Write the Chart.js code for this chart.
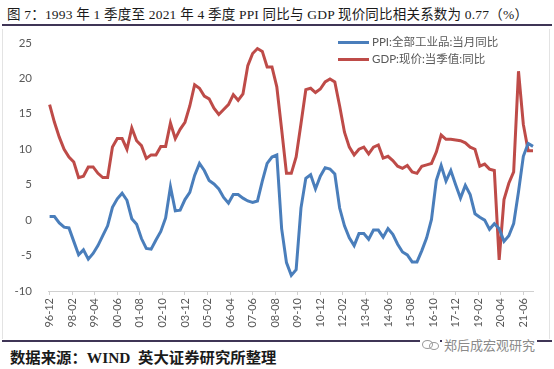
<!DOCTYPE html>
<html>
<head>
<meta charset="utf-8">
<script src="https://cdn.jsdelivr.net/npm/chart.js@4/dist/chart.umd.min.js"></script>
<style>
  html, body { margin: 0; padding: 0; background: #fff; }
  #wrap { position: relative; width: 554px; height: 369px; overflow: hidden; background: #fff; }
  #title { position: absolute; left: 7px; top: 3px; font-family: "Liberation Serif", "Noto Sans CJK SC", serif; font-size: 13.5px; letter-spacing: 0.2px; color: #1a1a1a; white-space: nowrap; }
  .rule { position: absolute; left: 2px; width: 550px; height: 2px; background: #3f3556; }
  #frame { position: absolute; left: 2px; top: 29px; width: 546px; height: 310px; border-left: 1px solid #e3e3e3; border-right: 1px solid #e3e3e3; }
  #chartBox { position: absolute; left: 0; top: 28px; width: 554px; height: 310px; }
  #legend { position: absolute; left: 338px; top: 33px; font-family: "Lato", "Noto Sans CJK SC", sans-serif; font-size: 11.5px; color: #595959; }
  #legend div { height: 17px; line-height: 17px; white-space: nowrap; }
  #legend span.sw { display: inline-block; width: 31px; height: 3px; vertical-align: middle; margin-right: 3px; position: relative; top: -1px; }
  #source { position: absolute; left: 10px; top: 346px; font-family: "Liberation Serif", "Noto Sans CJK SC", serif; font-weight: bold; font-size: 14.5px; color: #1a1a1a; white-space: nowrap; transform: scaleX(1.06); transform-origin: left center; }
  #wm { position: absolute; left: 442px; top: 335px; font-family: "Noto Sans CJK SC", sans-serif; font-size: 13px; color: #8a8a8a; white-space: nowrap; background: #fff; padding: 0 2px; }
  #wmicon { position: absolute; left: 420px; top: 339px; width: 20px; height: 10px; background: #fff; }
  #wmicon i { position: absolute; border: 1px solid #9a9a9a; border-radius: 50%; }
</style>
</head>
<body>
<div id="wrap">
  <div id="title">图 7：1993 年 1 季度至 2021 年 4 季度 PPI 同比与 GDP 现价同比相关系数为 0.77（%）</div>
  <div class="rule" style="top:24px"></div>
  <div id="frame"></div>
  <div id="chartBox"><canvas id="c" width="554" height="310"></canvas></div>
  <div id="legend"></div>
  <div class="rule" style="top:340px"></div>
  <div id="wmicon"><i style="left:2px;top:1px;width:9px;height:7px"></i><i style="left:9px;top:3px;width:8px;height:6px"></i></div>
  <div id="wm">郑后成宏观研究</div>
  <div id="source">数据来源：WIND&nbsp; 英大证券研究所整理</div>
</div>
<script>
// ---- data ----
const quarters = [
  '96-12',
  '97-03','97-06','97-09','97-12',
  '98-03','98-06','98-09','98-12',
  '99-03','99-06','99-09','99-12',
  '00-03','00-06','00-09','00-12',
  '01-03','01-06','01-09','01-12',
  '02-03','02-06','02-09','02-12',
  '03-03','03-06','03-09','03-12',
  '04-03','04-06','04-09','04-12',
  '05-03','05-06','05-09','05-12',
  '06-03','06-06','06-09','06-12',
  '07-03','07-06','07-09','07-12',
  '08-03','08-06','08-09','08-12',
  '09-03','09-06','09-09','09-12',
  '10-03','10-06','10-09','10-12',
  '11-03','11-06','11-09','11-12',
  '12-03','12-06','12-09','12-12',
  '13-03','13-06','13-09','13-12',
  '14-03','14-06','14-09','14-12',
  '15-03','15-06','15-09','15-12',
  '16-03','16-06','16-09','16-12',
  '17-03','17-06','17-09','17-12',
  '18-03','18-06','18-09','18-12',
  '19-03','19-06','19-09','19-12',
  '20-03','20-06','20-09','20-12',
  '21-03','21-06','21-09','21-12'
];
const ppiValues = [
  0.5,
  0.5, -0.4, -1.0, -1.1,
  -3.0, -4.9, -4.2, -5.5,
  -4.7, -3.6, -2.2, -0.8,
  1.8, 3.0, 3.8, 2.8,
  0.2, -0.6, -2.6, -4.0,
  -4.1, -2.8, -1.6, 0.3,
  4.7, 1.3, 1.4, 2.9,
  3.9, 6.3, 8.0, 7.0,
  5.6, 5.1, 4.4, 3.2,
  2.4, 3.6, 3.6, 3.1,
  2.7, 2.5, 2.7, 5.5,
  8.0, 8.9, 9.2, -1.2,
  -6.0, -7.8, -7.0, 1.7,
  5.9, 6.4, 4.4, 6.2,
  7.4, 7.2, 6.5, 1.7,
  -0.8, -2.5, -3.6, -1.9,
  -1.9, -2.7, -1.4, -1.4,
  -2.4, -1.2, -2.0, -3.4,
  -4.5, -4.9, -5.9, -5.9,
  -4.3, -2.5, 0.1, 5.6,
  7.7, 5.5, 7.0, 5.0,
  3.1, 4.9, 3.6, 0.9,
  0.4, 0.0, -1.3, -0.5,
  -1.2, -3.0, -2.2, -0.5,
  4.0, 9.0, 10.8, 10.4
];
const gdpValues = [
  16.3,
  13.8, 11.7, 10.0, 8.9,
  8.2, 6.0, 6.2, 7.5,
  7.5, 6.6, 6.0, 6.0,
  10.3, 11.5, 11.5, 10.0,
  13.0, 11.2, 10.5, 8.7,
  9.2, 9.2, 10.4, 10.4,
  13.7, 11.5, 12.8, 13.8,
  16.1, 19.1, 18.6, 17.5,
  17.1, 15.8, 14.9, 15.6,
  16.3, 17.7, 16.9, 17.8,
  21.8, 23.5, 24.2, 23.8,
  21.6, 21.6, 18.8, 12.8,
  6.6, 6.6, 8.9, 13.6,
  18.4, 18.6, 18.0, 18.5,
  19.5, 19.9, 19.5, 16.1,
  12.4, 10.3, 9.2, 10.0,
  10.3, 9.35, 10.3, 10.6,
  8.75, 9.0, 8.4, 7.6,
  7.3, 7.7, 6.8, 6.6,
  7.6, 7.8, 8.0, 9.6,
  12.0, 11.4, 11.4, 11.3,
  11.2, 10.9, 10.3, 10.0,
  7.6, 7.9, 7.2, 7.0,
  -5.6, 2.9, 5.2, 6.8,
  21.0, 13.5, 9.8, 9.8
];
const xTickLabels = ['96-12','98-02','99-04','00-06','01-08','02-10','03-12','05-02','06-04','07-06','08-08','09-10','10-12','12-02','13-04','14-06','15-08','16-10','17-12','19-02','20-04','21-06'];
const yTicks = [-10, -5, 0, 5, 10, 15, 20, 25];
const seriesNames = ['PPI:全部工业品:当月同比', 'GDP:现价:当季值:同比'];
const seriesColors = ['#4a7ebb', '#be4b48'];

// month offset from 1996-12 for a 'YY-MM' label
function monthIndex(lbl) {
  const yy = parseInt(lbl.slice(0, 2), 10);
  const mm = parseInt(lbl.slice(3, 5), 10);
  const year = yy >= 90 ? 1900 + yy : 2000 + yy;
  return (year - 1996) * 12 + (mm - 12);
}
function labelFor(m) {
  const hit = xTickLabels.find(l => monthIndex(l) === m);
  return hit || '';
}

const toPoints = vals => quarters.map((q, i) => ({ x: monthIndex(q), y: vals[i] }));

const tickColor = '#595959';
const chart = new Chart(document.getElementById('c'), {
  type: 'line',
  data: {
    datasets: [
      { label: seriesNames[0], data: toPoints(ppiValues), borderColor: seriesColors[0], backgroundColor: seriesColors[0], borderWidth: 3, pointRadius: 0, tension: 0, clip: 6 },
      { label: seriesNames[1], data: toPoints(gdpValues), borderColor: seriesColors[1], backgroundColor: seriesColors[1], borderWidth: 3, pointRadius: 0, tension: 0, clip: 6 }
    ]
  },
  options: {
    responsive: false,
    animation: false,
    layout: { padding: { top: 11, right: 21, left: 0, bottom: 0 } },
    plugins: { legend: { display: false }, tooltip: { enabled: false } },
    scales: {
      x: {
        type: 'linear',
        min: -1,
        max: 300,
        afterBuildTicks: s => { s.ticks = xTickLabels.map(l => ({ value: monthIndex(l) })); },
        afterFit: s => { s.height = 47; },
        ticks: {
          autoSkip: false,
          minRotation: 90,
          maxRotation: 90,
          color: tickColor,
          padding: 3,
          font: { family: 'Lato, "Open Sans", sans-serif', size: 11 },
          callback: v => labelFor(v)
        },
        grid: { display: true, drawOnChartArea: false, drawTicks: true, tickLength: 4, color: '#d0d0d0' },
        border: { display: true, color: '#d0d0d0', width: 1 }
      },
      y: {
        min: -10,
        max: 25,
        afterBuildTicks: s => { s.ticks = yTicks.map(v => ({ value: v })); },
        afterFit: s => { s.width = 48; },
        ticks: {
          color: tickColor,
          padding: 8,
          font: { family: 'Lato, "Open Sans", sans-serif', size: 11.5 }
        },
        grid: { display: false },
        border: { display: false }
      }
    }
  }
});

// HTML legend built from the chart's datasets
const leg = document.getElementById('legend');
chart.data.datasets.forEach(ds => {
  const row = document.createElement('div');
  const sw = document.createElement('span');
  sw.className = 'sw';
  sw.style.background = ds.borderColor;
  row.appendChild(sw);
  row.appendChild(document.createTextNode(ds.label));
  leg.appendChild(row);
});
</script>
</body>
</html>
